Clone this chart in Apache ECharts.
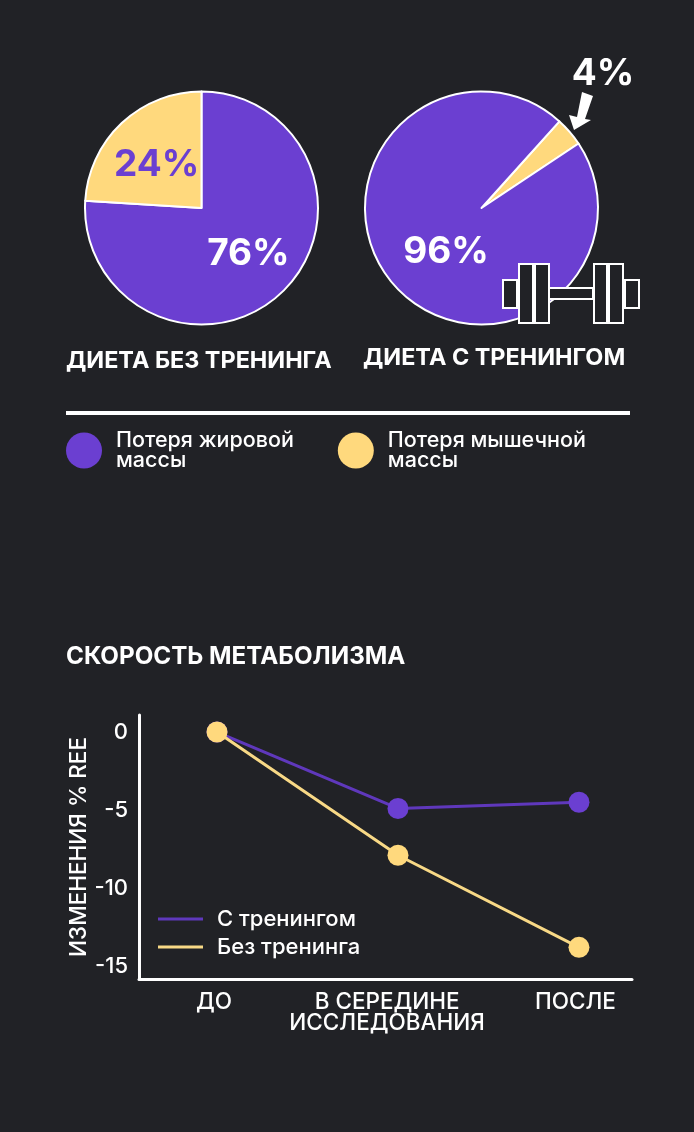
<!DOCTYPE html>
<html><head><meta charset="utf-8">
<style>html,body{margin:0;padding:0;background:#212226}#c{width:694px;height:1132px}</style>
<script src="https://cdn.jsdelivr.net/npm/echarts@6/dist/echarts.min.js"></script>
</head><body><div id="c"></div>
<script>
const font = 'Inter';
const bg = '#212226', purple = '#6B3FD1', yellow = '#FFD97D', white = '#FFFFFF';
const linePurple = '#5F38BC', lineYellow = '#F8D986';
const lossNames = ['Потеря жировой\nмассы', 'Потеря мышечной\nмассы'];
const dietOnly = [76, 24];
const dietTraining = [96, 4];
const stages = ['ДО', 'В СЕРЕДИНЕ\nИССЛЕДОВАНИЯ', 'ПОСЛЕ'];
const stageLabelPos = [-0.017, 0.94, 1.98];
const yTicks = [0, -5, -10, -15];
const withTraining = [0, -4.9, -4.5];
const noTraining = [0, -7.9, -13.8];
const seriesNames = ['С тренингом', 'Без тренинга'];

const chart = echarts.init(document.getElementById('c'), null, {renderer:'canvas'});
const pct = p => p.value + '%';
function pie(center, startAngle, data, layouts){
  return {
    type:'pie', center, radius:[0,116.5], startAngle, clockwise:true, silent:true, animation:false,
    itemStyle:{borderColor:white, borderWidth:2},
    labelLine:{show:false},
    label:{position:'inside', formatter:pct, fontFamily:font, fontWeight:700, fontSize:37, color:white},
    labelLayout: p => layouts[p.dataIndex],
    data
  };
}
const lineSeries = (name, vals, color, lineColor, z) => ({
  type:'line', name, data: vals.map((v,i)=>[i,v]), xAxisIndex:0, yAxisIndex:0, z,
  symbol:'circle', symbolSize:21, showSymbol:true, animation:false, silent:true,
  lineStyle:{color:lineColor, width:3}, itemStyle:{color}
});
const dumbbell = [[503,280,14,28],[519,264,14,59],[535,264,14,59],[549,288,44,11],[594,264,13,59],[609,264,14,59],[625,280,14,28]];
chart.setOption({
  backgroundColor:bg, animation:false,
  textStyle:{fontFamily:font},
  grid:{left:139, top:715, width:493, height:264},
  xAxis:{type:'value', min:-0.431, max:2.293, splitLine:{show:false},
    axisLine:{lineStyle:{color:white,width:3}, onZero:false}, axisTick:{show:false},
    axisLabel:{customValues:stageLabelPos, formatter:(v)=>stages[stageLabelPos.indexOf(v)], color:white, fontFamily:font, fontWeight:500, fontSize:22.5, lineHeight:21, margin:13, verticalAlign:'top', align:'center', hideOverlap:false}},
  yAxis:{type:'value', min:-15.83, max:1.09, splitLine:{show:false},
    axisLine:{show:true, onZero:false, lineStyle:{color:white,width:3}}, axisTick:{show:false},
    axisLabel:{customValues:yTicks, color:white, fontFamily:font, fontWeight:500, fontSize:22, margin:11, padding:[6,0,0,0]},
    name:'ИЗМЕНЕНИЯ % REE', nameLocation:'middle', nameGap:48, nameRotate:90, nameMoveOverlap:false,
    nameTextStyle:{color:white, fontFamily:font, fontWeight:500, fontSize:22.5}},
  legend:[
    {data:lossNames, left:61, top:421, orient:'horizontal', icon:'circle', itemWidth:36, itemHeight:36, itemGap:44, selectedMode:false,
      itemStyle:{borderWidth:0},
      textStyle:{color:white, fontFamily:font, fontWeight:500, fontSize:21.5, lineHeight:20, padding:[9,0,0,9]}},
    {data:[{name:seriesNames[0], itemStyle:{color:linePurple}},{name:seriesNames[1], itemStyle:{color:lineYellow}}],
      left:153, top:903, orient:'vertical', icon:'rect', itemWidth:45, itemHeight:3, itemGap:6, selectedMode:false,
      textStyle:{color:white, fontFamily:font, fontWeight:500, fontSize:22, lineHeight:18, padding:[0,0,0,9]}}
  ],
  series:[
    pie([201.5,208], 90, [
      {name:lossNames[0], value:dietOnly[0], itemStyle:{color:purple}},
      {name:lossNames[1], value:dietOnly[1], itemStyle:{color:yellow}, label:{color:purple}}
    ], [{dx:5,dy:1},{dx:-3,dy:2}]),
    pie([481.5,208], 48, [
      {name:lossNames[1], value:dietTraining[1], itemStyle:{color:yellow}},
      {name:lossNames[0], value:dietTraining[0], itemStyle:{color:purple}}
    ], [{x:603,y:74},{dx:11,dy:4}]),
    lineSeries(seriesNames[0], withTraining, purple, linePurple, 3),
    lineSeries(seriesNames[1], noTraining, yellow, lineYellow, 4)
  ],
  graphic:[
    {type:'text', left:66, top:349, style:{text:'ДИЕТА БЕЗ ТРЕНИНГА', fill:white, font:'700 23.4px '+font}},
    {type:'text', left:363, top:346, style:{text:'ДИЕТА С ТРЕНИНГОМ', fill:white, font:'700 23.4px '+font}},
    {type:'text', left:66, top:645, style:{text:'СКОРОСТЬ МЕТАБОЛИЗМА', fill:white, font:'700 24.2px '+font}},
    {type:'rect', shape:{x:66,y:411,width:564,height:4}, style:{fill:white}},
    {type:'polygon', z:20, shape:{points:[[582,92],[593,96],[585,119],[591,120],[574,130],[569,115],[577,117]]}, style:{fill:white}},
    ...dumbbell.map(r=>({type:'rect', z:20, shape:{x:r[0],y:r[1],width:r[2],height:r[3]}, style:{fill:bg, stroke:white, lineWidth:2}}))
  ]
});
</script></body></html>
